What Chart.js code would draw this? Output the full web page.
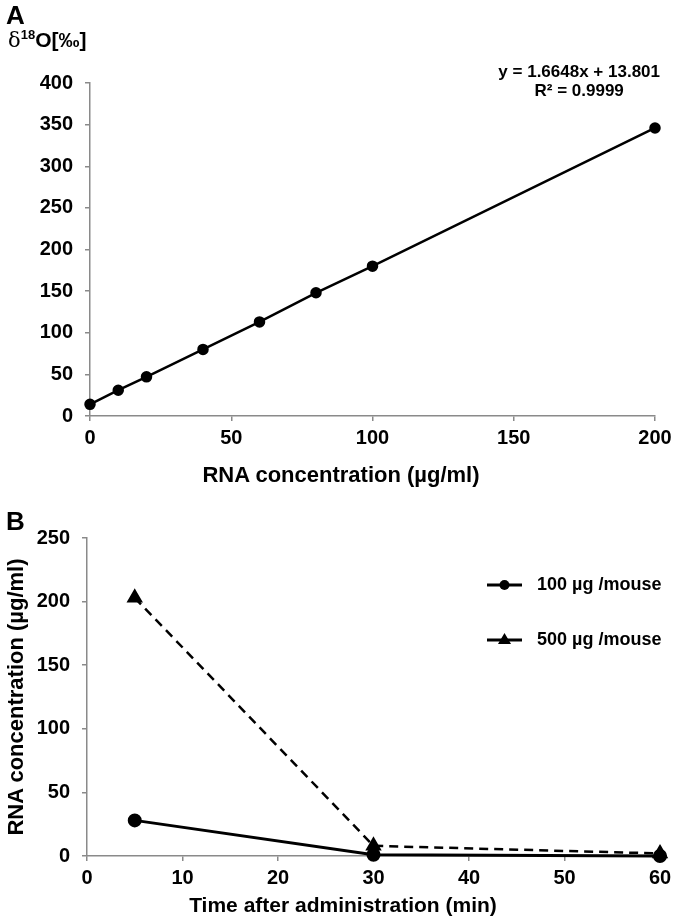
<!DOCTYPE html>
<html>
<head>
<meta charset="utf-8">
<script src="https://cdn.jsdelivr.net/npm/chart.js@4.4.1/dist/chart.umd.min.js"></script>
<style>
    body { margin: 0; background: #fff; }
    #page { position: relative; width: 680px; height: 922px; font-family: "Liberation Sans", Arial, sans-serif; font-weight: bold; color: #000; }
    .abs { position: absolute; white-space: nowrap; }
    #wrapA { position: absolute; left: 0; top: 0; width: 680px; height: 500px; }
    #wrapB { position: absolute; left: 0; top: 500px; width: 680px; height: 422px; }
</style>
</head>
<body>
<div id="page">
    <div id="wrapA"><canvas id="chartA"></canvas></div>
    <div id="wrapB"><canvas id="chartB"></canvas></div>

    <div class="abs" style="left:6px; top:0px; font-size:26px;">A</div>
    <div class="abs" style="left:8px; top:27px; font-size:21px;"><span style="font-weight:normal; font-family:'DejaVu Serif', serif;">δ</span><sup style="font-size:13px;">18</sup>O[‰]</div>
    <div class="abs" style="right:20px; top:62px; font-size:17px; text-align:center; line-height:19px;">y = 1.6648x + 13.801<br>R² = 0.9999</div>
    <div class="abs" style="left:0; width:682px; top:462px; font-size:22px; text-align:center;">RNA concentration (µg/ml)</div>

    <div class="abs" style="left:6px; top:506px; font-size:26px;">B</div>
    <div class="abs" style="left:16px; top:697px; font-size:22px; transform:translate(-50%,-50%) rotate(-90deg);">RNA concentration (µg/ml)</div>
    <div class="abs" style="left:0; width:686px; top:893px; font-size:21px; text-align:center;">Time after administration (min)</div>
</div>

<script>
// Panel A - calibration
const concX = [0, 10, 20, 40, 60, 80, 100, 200];
const deltaY = [14, 31, 47, 80, 113, 148, 180, 346];
const yTicksA = [0, 50, 100, 150, 200, 250, 300, 350, 400];
const xTicksA = [0, 50, 100, 150, 200];

// Panel B - time course
const timeX = [5, 30, 60];
const dose100 = [28, 1, 0];
const dose500 = [203, 8, 2];
const seriesNames = ['100 µg /mouse', '500 µg /mouse'];
const yTicksB = [0, 50, 100, 150, 200, 250];
const xTicksB = [0, 10, 20, 30, 40, 50, 60];

const tickFont = { family: '"Liberation Sans", Arial, sans-serif', size: 20, weight: 'bold' };
const axisGray = '#8a8a8a';

function toPoints(xs, ys) {
    return xs.map((x, i) => ({ x: x, y: ys[i] }));
}

function axisOptions(min, max, step, ticks, fixed, isY) {
    return {
        type: 'linear',
        min: min,
        max: max,
        afterBuildTicks: scale => { scale.ticks = ticks.map(v => ({ value: v })); },
        afterFit: scale => {
            if (isY) scale.width = fixed; else scale.height = fixed;
        },
        grid: { drawOnChartArea: false, color: axisGray, lineWidth: 1.5, tickLength: 5 },
        border: { color: axisGray, width: 1.5 },
        ticks: { color: '#000', font: tickFont, padding: isY ? 12 : 5, stepSize: step, maxRotation: 0 }
    };
}

// legend drawn inside the plot like the Excel one
const sideLegend = {
    id: 'sideLegend',
    afterDraw(chart) {
        const ctx = chart.ctx;
        const rows = [{ y: 85 }, { y: 140 }];
        chart.data.datasets.forEach((ds, i) => {
            const y = rows[i].y;
            ctx.save();
            ctx.strokeStyle = '#000';
            ctx.fillStyle = '#000';
            ctx.lineWidth = 3;
            ctx.beginPath();
            ctx.moveTo(487, y);
            ctx.lineTo(522, y);
            ctx.stroke();
            if (ds.pointStyle === 'triangle') {
                ctx.beginPath();
                ctx.moveTo(504.5, y - 7);
                ctx.lineTo(511, y + 4);
                ctx.lineTo(498, y + 4);
                ctx.closePath();
                ctx.fill();
            } else {
                ctx.beginPath();
                ctx.arc(504.5, y, 5, 0, Math.PI * 2);
                ctx.fill();
            }
            ctx.font = 'bold 18px "Liberation Sans", Arial, sans-serif';
            ctx.textBaseline = 'middle';
            ctx.fillText(ds.label, 537, y);
            ctx.restore();
        });
    }
};

document.addEventListener('DOMContentLoaded', function() {
    Chart.defaults.animation = false;

    new Chart(document.getElementById('chartA'), {
        type: 'scatter',
        data: {
            datasets: [{
                label: 'calibration',
                data: toPoints(concX, deltaY),
                showLine: true,
                borderColor: '#000',
                backgroundColor: '#000',
                borderWidth: 2.5,
                pointRadius: 4.5,
                clip: false
            }]
        },
        options: {
            responsive: true,
            maintainAspectRatio: false,
            layout: { padding: { top: 83, right: 25, left: 0, bottom: 0 } },
            plugins: { legend: { display: false }, tooltip: { enabled: false } },
            scales: {
                x: axisOptions(0, 200, 50, xTicksA, 84, false),
                y: axisOptions(0, 400, 50, yTicksA, 90, true)
            }
        }
    });

    new Chart(document.getElementById('chartB'), {
        type: 'scatter',
        data: {
            datasets: [{
                label: seriesNames[0],
                data: toPoints(timeX, dose100),
                showLine: true,
                borderColor: '#000',
                backgroundColor: '#000',
                borderWidth: 3,
                pointStyle: 'circle',
                pointRadius: 5.5,
                clip: false
            }, {
                label: seriesNames[1],
                data: toPoints(timeX, dose500),
                showLine: true,
                borderColor: '#000',
                backgroundColor: '#000',
                borderWidth: 2.5,
                borderDash: [9, 6],
                pointStyle: 'triangle',
                pointRadius: 7,
                clip: false
            }]
        },
        options: {
            responsive: true,
            maintainAspectRatio: false,
            layout: { padding: { top: 38, right: 20, left: 0, bottom: 0 } },
            plugins: { legend: { display: false }, tooltip: { enabled: false } },
            scales: {
                x: axisOptions(0, 60, 10, xTicksB, 66, false),
                y: axisOptions(0, 250, 50, yTicksB, 87, true)
            }
        },
        plugins: [sideLegend]
    });
});
</script>
</body>
</html>
